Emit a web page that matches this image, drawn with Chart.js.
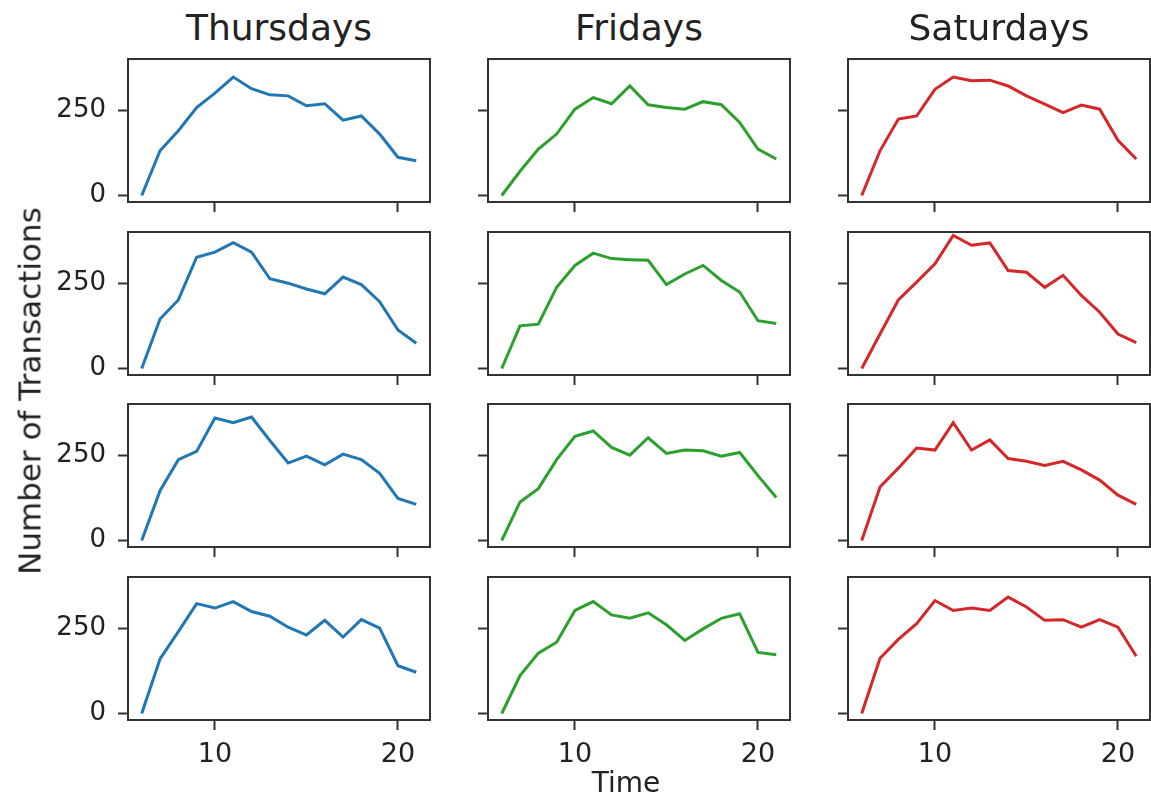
<!DOCTYPE html>
<html>
<head>
<meta charset="utf-8">
<script src="https://cdn.jsdelivr.net/npm/chart.js@4/dist/chart.umd.min.js"></script>
<style>
  body { margin: 0; background: #fff; width: 1151px; height: 800px; position: relative; overflow: hidden;
         font-family: "DejaVu Sans", sans-serif; color: #222; }
  .cell { position: absolute; }
  .lbl { position: absolute; white-space: nowrap; line-height: 1; }
</style>
</head>
<body>
<script>
// Data (hour of day vs. number of transactions)
const hours = [6, 7, 8, 9, 10, 11, 12, 13, 14, 15, 16, 17, 18, 19, 20, 21];
const days = ['Thursdays', 'Fridays', 'Saturdays'];
const colors = ['#1f77b4', '#2ca02c', '#d62728'];
const xTicks = [10, 20];
const yTicks = [0, 250];

const thu1 = [0, 131, 190, 258, 300, 347, 313, 295, 292, 263, 269, 221, 233, 180, 112, 102];
const thu2 = [0, 145, 201, 326, 341, 369, 341, 263, 250, 233, 219, 268, 246, 196, 113, 74];
const thu3 = [0, 146, 237, 261, 359, 345, 362, 293, 227, 247, 222, 253, 237, 197, 123, 106];
const thu4 = [0, 160, 240, 322, 309, 328, 299, 285, 253, 230, 273, 224, 275, 250, 140, 121];

const fri1 = [0, 71, 136, 180, 253, 287, 269, 321, 266, 258, 253, 275, 266, 214, 136, 107];
const fri2 = [0, 125, 130, 238, 302, 338, 322, 319, 317, 246, 277, 302, 258, 224, 140, 132];
const fri3 = [0, 113, 152, 237, 305, 321, 273, 250, 301, 255, 265, 263, 247, 258, 190, 126];
const fri4 = [0, 111, 177, 209, 302, 328, 289, 279, 295, 260, 214, 248, 279, 292, 179, 172];

const sat1 = [0, 131, 224, 233, 311, 347, 336, 338, 321, 292, 268, 243, 265, 253, 162, 107];
const sat2 = [0, 101, 201, 253, 307, 390, 361, 368, 287, 282, 238, 273, 214, 165, 101, 76];
const sat3 = [0, 157, 212, 271, 265, 345, 265, 295, 240, 232, 220, 232, 207, 177, 133, 106];
const sat4 = [0, 162, 217, 263, 331, 302, 309, 302, 341, 312, 273, 275, 253, 275, 253, 168];

const rows = [
  [thu1, fri1, sat1],
  [thu2, fri2, sat2],
  [thu3, fri3, sat3],
  [thu4, fri4, sat4]
];

// layout of the plot boxes
const colLeft = [128, 488, 848];
const rowTop = [59, 232, 404, 577];
const plotW = 302, plotH = 143;
const padT = 10, padR = 10, yW = 90;

const boxPlugin = {
  id: 'box',
  afterDatasetsDraw(chart) {
    const a = chart.chartArea, ctx = chart.ctx;
    ctx.save();
    ctx.strokeStyle = '#333';
    ctx.lineWidth = 2;
    ctx.strokeRect(a.left, a.top, a.right - a.left, a.bottom - a.top);
    ctx.restore();
  }
};

function addLabel(text, css) {
  const d = document.createElement('div');
  d.className = 'lbl';
  d.textContent = text;
  Object.assign(d.style, css);
  document.body.appendChild(d);
}

rows.forEach((row, r) => {
  row.forEach((values, c) => {
    const lastRow = r === rows.length - 1;
    const xH = lastRow ? 60 : 16;
    const div = document.createElement('div');
    div.className = 'cell';
    div.style.left = (colLeft[c] - yW) + 'px';
    div.style.top = (rowTop[r] - padT) + 'px';
    div.style.width = (yW + plotW + padR) + 'px';
    div.style.height = (padT + plotH + xH) + 'px';
    const canvas = document.createElement('canvas');
    div.appendChild(canvas);
    document.body.appendChild(div);

    new Chart(canvas, {
      type: 'line',
      data: {
        datasets: [{
          data: hours.map((h, i) => ({ x: h, y: values[i] })),
          borderColor: colors[c],
          borderWidth: 3,
          pointRadius: 0,
          tension: 0,
          fill: false
        }]
      },
      options: {
        responsive: true,
        maintainAspectRatio: false,
        animation: false,
        layout: { padding: { top: padT, right: padR, left: 0, bottom: 0 } },
        plugins: { legend: { display: false }, tooltip: { enabled: false } },
        scales: {
          x: {
            type: 'linear',
            min: 5.25,
            max: 21.75,
            afterBuildTicks: s => { s.ticks = xTicks.map(v => ({ value: v })); },
            afterFit: s => { s.height = xH; s.paddingLeft = 0; s.paddingRight = 0; },
            border: { display: false },
            grid: { drawOnChartArea: false, drawTicks: true, tickLength: 10, tickWidth: 2, tickColor: '#333' },
            ticks: { display: lastRow, color: '#222', padding: 9, maxRotation: 0,
                     font: { family: 'DejaVu Sans', size: 27 } }
          },
          y: {
            min: -19,
            max: 400,
            afterBuildTicks: s => { s.ticks = yTicks.map(v => ({ value: v })); },
            afterFit: s => { s.width = yW; s.paddingTop = 0; s.paddingBottom = 0; },
            border: { display: false },
            grid: { drawOnChartArea: false, drawTicks: true, tickLength: 10, tickWidth: 2, tickColor: '#333' },
            ticks: { display: c === 0, color: '#222', padding: 12,
                     font: { family: 'DejaVu Sans', size: 26 } }
          }
        }
      },
      plugins: [boxPlugin]
    });
  });
});

days.forEach((d, c) => {
  addLabel(d, { left: (colLeft[c] + plotW / 2) + 'px', top: '10px', fontSize: '36px',
                transform: 'translateX(-50%)' });
});
addLabel('Time', { left: '626px', top: '769px', fontSize: '28px', transform: 'translateX(-50%)' });
addLabel('Number of Transactions', { left: '30px', top: '391px', fontSize: '31px',
                                     transform: 'translate(-50%, -50%) rotate(-90deg)' });
</script>
</body>
</html>
